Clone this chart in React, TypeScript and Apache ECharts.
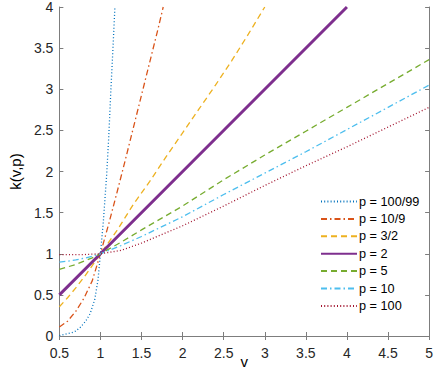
import React, { useEffect, useRef } from "react";
import * as echarts from "echarts";

// ---- data ----
const xTicks = ["0.5", "1", "1.5", "2", "2.5", "3", "3.5", "4", "4.5", "5"];
const yTicks = ["0", "0.5", "1", "1.5", "2", "2.5", "3", "3.5", "4"];

const vA = [0.5, 0.56, 0.65, 0.7, 0.76, 0.82, 0.874, 0.93, 0.97, 1.0, 1.036, 1.075, 1.1, 1.125, 1.15, 1.176];
const kA = [0.005, 0.02, 0.04, 0.06, 0.11, 0.18, 0.27, 0.44, 0.68, 1.0, 1.4, 1.95, 2.4, 2.95, 3.45, 4.0];

const vB = [0.5, 0.6, 0.7, 0.8, 0.9, 1.0, 1.1, 1.2, 1.3, 1.4, 1.5, 1.6, 1.7, 1.764];
const kB = [0.11, 0.18, 0.3, 0.46, 0.67, 1.0, 1.36, 1.74, 2.13, 2.53, 2.93, 3.33, 3.73, 4.0];

const vC = [0.5, 0.6, 0.7, 0.8, 0.9, 1.0, 1.2, 1.4, 1.6, 1.8, 2.0, 2.2, 2.4, 2.6, 2.8, 3.0];
const kC = [0.355, 0.465, 0.585, 0.715, 0.855, 1.0, 1.28, 1.6, 1.88, 2.18, 2.47, 2.76, 3.05, 3.35, 3.67, 4.0];

const vD = [0.5, 1, 2, 3, 4];
const kD = [0.5, 1, 2, 3, 4];

const vE = [0.5, 0.6, 0.7, 0.8, 0.9, 1.0, 1.25, 1.5, 2.0, 2.5, 3.0, 3.5, 4.0, 4.5, 5.0];
const kE = [0.81, 0.84, 0.87, 0.91, 0.95, 1.0, 1.14, 1.29, 1.58, 1.9, 2.2, 2.49, 2.78, 3.07, 3.36];

const vF = [0.5, 0.6, 0.7, 0.8, 0.9, 1.0, 1.25, 1.5, 2.0, 2.5, 3.0, 3.5, 4.0, 4.5, 5.0];
const kF = [0.898, 0.91, 0.925, 0.945, 0.97, 1.0, 1.1, 1.21, 1.45, 1.72, 1.98, 2.24, 2.51, 2.78, 3.05];

const vG = [0.5, 0.6, 0.7, 0.8, 0.9, 1.0, 1.25, 1.5, 2.0, 2.5, 3.0, 3.5, 4.0, 4.5, 5.0];
const kG = [0.99, 0.99, 0.99, 0.99, 0.995, 1.0, 1.04, 1.13, 1.34, 1.58, 1.83, 2.07, 2.3, 2.54, 2.78];

const seriesNames = ["p = 100/99", "p = 10/9", "p = 3/2", "p = 2", "p = 5", "p = 10", "p = 100"];

const zip = (xs: number[], ys: number[]) => xs.map((x, i) => [x, ys[i]]);

export default function App() {
  const ref = useRef<HTMLDivElement>(null);
  useEffect(() => {
    if (!ref.current) return;
    const chart = echarts.init(ref.current, undefined, { renderer: "svg" });
    const FONT = "Liberation Sans, Arial, Helvetica, sans-serif";
    const axisLine = { show: true, lineStyle: { color: "#7d7d7d", width: 1 } };
    const axisTick = { show: true, inside: true, length: 4, lineStyle: { color: "#7d7d7d", width: 1 } };
    const dotted = [1, 2.2];
    const dashed = [6, 4];
    const dashDot = [6, 3, 1.5, 3];
    const mk = (name: string, data: number[][], color: string, type: any, width: number) => ({
      name,
      type: "line",
      data,
      xAxisIndex: 0,
      yAxisIndex: 0,
      showSymbol: false,
      symbol: "none",
      smooth: false,
      lineStyle: { color, width, type, cap: "butt" },
      itemStyle: { color },
      emphasis: { disabled: true },
    });
    chart.setOption({
      animation: false,
      backgroundColor: "#ffffff",
      textStyle: { fontFamily: FONT },
      grid: { left: 44.5, right: 4, top: 5.5, bottom: 46, containLabel: false },
      legend: {
        orient: "vertical",
        left: 315,
        top: 190,
        itemWidth: 36,
        itemHeight: 14,
        itemGap: 4.4,
        itemStyle: { opacity: 0, color: "rgba(0,0,0,0)", borderWidth: 0 },
        textStyle: { fontSize: 12.7, color: "#000000", fontFamily: FONT, padding: [0, 0, 0, -3] },
        data: seriesNames,
        selectedMode: false,
      },
      xAxis: [
        {
          type: "value",
          min: 0.5,
          max: 5,
          interval: 0.5,
          name: "v",
          nameLocation: "middle",
          nameGap: 18,
          nameMoveOverlap: false,
          nameTextStyle: { fontSize: 15, color: "#000000", fontFamily: FONT },
          axisLine,
          axisTick,
          splitLine: { show: false },
          axisLabel: { fontSize: 14, color: "#262626", margin: 10, fontFamily: FONT,
            formatter: (v: number) => xTicks[Math.round((v - 0.5) / 0.5)] ?? "" },
        },
        {
          type: "value",
          position: "top",
          min: 0.5,
          max: 5,
          interval: 0.5,
          axisLine,
          axisTick,
          splitLine: { show: false },
          axisLabel: { show: false },
        },
      ],
      yAxis: [
        {
          type: "value",
          min: 0,
          max: 4,
          interval: 0.5,
          name: "k(v,p)",
          nameLocation: "middle",
          nameGap: 25,
          nameTextStyle: { fontSize: 15, color: "#000000", fontFamily: FONT },
          axisLine,
          axisTick,
          splitLine: { show: false },
          axisLabel: { fontSize: 14, color: "#262626", margin: 6, fontFamily: FONT,
            formatter: (v: number) => yTicks[Math.round(v / 0.5)] ?? "" },
        },
        {
          type: "value",
          position: "right",
          min: 0,
          max: 4,
          interval: 0.5,
          axisLine,
          axisTick,
          splitLine: { show: false },
          axisLabel: { show: false },
        },
      ],
      series: [
        mk(seriesNames[0], zip(vA, kA), "#0072BD", dotted, 1.3),
        mk(seriesNames[1], zip(vB, kB), "#D95319", dashDot, 1.3),
        mk(seriesNames[2], zip(vC, kC), "#EDB120", dashed, 1.3),
        mk(seriesNames[3], zip(vD, kD), "#7E2F8E", "solid", 3),
        mk(seriesNames[4], zip(vE, kE), "#77AC30", dashed, 1.3),
        mk(seriesNames[5], zip(vF, kF), "#4DBEEE", dashDot, 1.3),
        mk(seriesNames[6], zip(vG, kG), "#A2142F", dotted, 1.3),
      ],
    });
    return () => chart.dispose();
  }, []);
  return (
    <div
      ref={ref}
      style={{ position: "fixed", left: 0, top: 0, width: 436, height: 382, background: "#fff" }}
    />
  );
}
